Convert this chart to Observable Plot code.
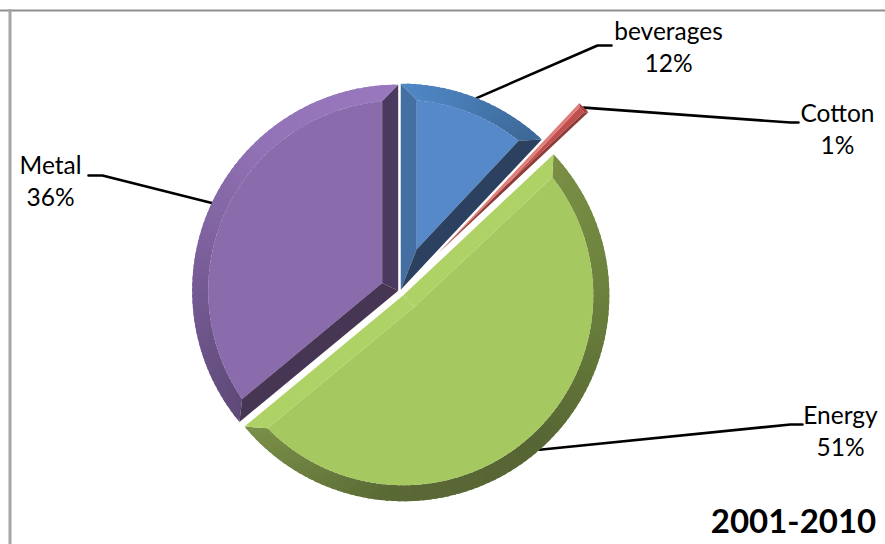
<!DOCTYPE html>
<html>
<head>
<meta charset="utf-8">
<style>
  html, body { margin: 0; padding: 0; background: #fff; }
  svg { display: block; }
</style>
<script src="https://cdn.jsdelivr.net/npm/d3@7"></script>
<script src="https://cdn.jsdelivr.net/npm/@observablehq/plot@0.6"></script>
</head>
<body>
<script>
// Commodity shares, 2001-2010
const categories = ["beverages", "Cotton", "Energy", "Metal"];
const shares = [12, 1, 51, 36];
const period = "2001-2010";

// Slice styling: face, the two side bevels, and the rim shading from start to end
const faceColors = ["#5589ca", "#c0504d", "#a6c860", "#8a6bab"];
const startBevelColors = ["#446fa3", "#e07c77", "#aed265", "#463553"];
const endBevelColors = ["#2c415f", "#8d3b38", "#aed265", "#4b3a5f"];
const rimColors = [
  ["#4f86c5", "#4679b0", "#3d6897"],
  ["#a5423f", "#a5423f"],
  ["#7a8f45", "#6a7f3c", "#566534", "#5a6935", "#7a8f48"],
  ["#5f4a78", "#775c96", "#9272b6", "#9a78bf"]
];
const explosion = [2, 54, 5, 2];
const bevelWidth = [16, 3, 16, 16];

// Pie placement within the 885x544 chart area
const center = [399.5, 291];
const radius = 206;

// Label blocks and the elbow of each leader line
const labelAt = [[668, 45], [837, 127], [840, 429], [50, 179]];
const elbowAt = [[597, 45], [790, 122], [790, 424], [102, 175]];
const leaderEndAt = [[611, 45], [798, 122], [802, 424], [88, 175]];

const slices = d3.pie().sort(null)(shares);

const polar = (c, angle, r) => [c[0] + r * Math.sin(angle), c[1] - r * Math.cos(angle)];

const polygons = [];
const addPolygon = (id, fill, pts) => {
  const ring = [...pts, pts[0]];
  ring.forEach(([x, y]) => polygons.push({id, fill, x, y}));
};

const anchors = [];

slices.forEach((s, i) => {
  const a0 = s.startAngle, a1 = s.endAngle, mid = (a0 + a1) / 2;
  const c = polar(center, mid, explosion[i]);
  const b = bevelWidth[i], inner = radius - b;
  const shift = Math.asin(b / inner);
  const ia0 = a0 + shift, ia1 = a1 - shift;
  const apex = polar(c, mid, b / Math.sin((a1 - a0) / 2));
  const steps = Math.max(2, Math.ceil((a1 - a0) / 0.03));
  const outerAt = t => polar(c, a0 + t * (a1 - a0), radius);
  const innerAt = t => polar(c, ia0 + t * (ia1 - ia0), inner);
  const shade = d3.piecewise(d3.interpolateRgb, rimColors[i]);

  // Rim band: short quads, each overlapping the next so the shade changes without seams
  d3.range(steps).forEach(k => {
    const t0 = k / steps, t1 = Math.min(1, (k + 1.6) / steps);
    const arcT = d3.range(5).map(j => t0 + (t1 - t0) * j / 4);
    addPolygon(`rim-${i}-${k}`, shade((k + 0.5) / steps),
      [...arcT.map(outerAt), ...arcT.reverse().map(innerAt)]);
  });

  // Flat face, drawn larger than its final shape so no gap shows along the bevels
  addPolygon(`face-${i}`, faceColors[i],
    [apex, ...d3.range(steps * 3 + 1).map(k => innerAt(k / (steps * 3)))]);

  // Side bevels along the two straight edges
  addPolygon(`start-${i}`, startBevelColors[i], [c, outerAt(0), innerAt(0), apex]);
  addPolygon(`end-${i}`, endBevelColors[i], [c, outerAt(1), innerAt(1), apex]);

  anchors.push(polar(c, mid, radius));
});

const leaders = categories.flatMap((name, i) =>
  [anchors[i], elbowAt[i], leaderEndAt[i]].map(([x, y]) => ({name, x, y})));

const labels = categories.map((name, i) => ({
  text: `${name}\n${shares[i]}%`,
  x: labelAt[i][0],
  y: labelAt[i][1]
}));

const chart = Plot.plot({
  width: 885,
  height: 544,
  margin: 0,
  x: {domain: [0, 885], range: [0, 885], axis: null},
  y: {domain: [0, 544], range: [0, 544], axis: null},
  color: {type: "identity"},
  style: {background: "#fff", fontFamily: "Lato, sans-serif"},
  marks: [
    // Chart frame: only the top and left edges fall inside the page
    Plot.ruleY([10], {stroke: "#8f8f8f", strokeWidth: 2}),
    Plot.ruleX([9.5], {stroke: "#a6a6a6", strokeWidth: 3, y1: 9, y2: 544}),
    Plot.line(leaders, {x: "x", y: "y", z: "name", stroke: "#000", strokeWidth: 2.6, curve: "linear"}),
    Plot.line(polygons, {x: "x", y: "y", z: "id", fill: "fill", stroke: "none", curve: "linear"}),
    Plot.text(labels, {
      x: "x", y: "y", text: "text",
      fontSize: 24.5, lineHeight: 1.34, fill: "#000", textAnchor: "middle", lineAnchor: "middle"
    }),
    Plot.text([period], {
      x: () => 793, y: () => 522, text: d => d,
      fontSize: 33, fontWeight: 700, fill: "#000", textAnchor: "middle", lineAnchor: "middle"
    })
  ]
});

document.body.append(chart);
</script>
</body>
</html>
